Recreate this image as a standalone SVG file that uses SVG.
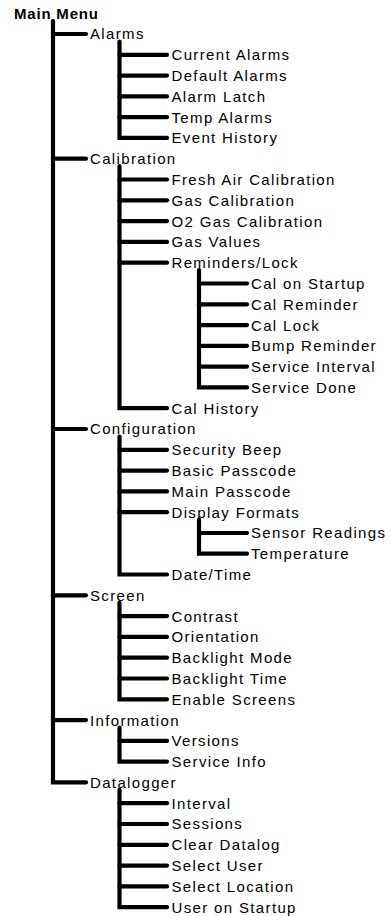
<svg xmlns="http://www.w3.org/2000/svg" width="391" height="916" viewBox="0 0 391 916">
<style>
.bg{fill:#ffffff}
text{font-family:"Liberation Sans",Arial,sans-serif;font-size:15px;fill:#000;letter-spacing:1.35px}
.root{font-weight:bold;letter-spacing:0.8px}
.c path{fill:none;stroke:#000;stroke-width:4.2;stroke-linecap:round;stroke-linejoin:miter}
</style>
<rect class="bg" x="0" y="0" width="391" height="916"/>
<g id="connectors" class="c">
<!-- level 1 -->
<path d="M53 21V782.4H86"/>
<path d="M53 34H86"/>
<path d="M53 158.7H86"/>
<path d="M53 429H86"/>
<path d="M53 595.3H86"/>
<path d="M53 720.1H86"/>
<!-- Alarms -->
<path d="M119.5 41.5V137.9H167"/>
<path d="M119.5 54.8H167"/>
<path d="M119.5 75.6H167"/>
<path d="M119.5 96.4H167"/>
<path d="M119.5 117.2H167"/>
<!-- Calibration -->
<path d="M119.5 166.2V408.2H167"/>
<path d="M119.5 179.5H167"/>
<path d="M119.5 200.3H167"/>
<path d="M119.5 221.1H167"/>
<path d="M119.5 241.9H167"/>
<path d="M119.5 262.7H167"/>
<!-- Reminders/Lock -->
<path d="M199 270.2V387.4H247"/>
<path d="M199 283.5H247"/>
<path d="M199 304.3H247"/>
<path d="M199 325.1H247"/>
<path d="M199 345.8H247"/>
<path d="M199 366.6H247"/>
<!-- Configuration -->
<path d="M119.5 436.5V574.5H167"/>
<path d="M119.5 449.8H167"/>
<path d="M119.5 470.6H167"/>
<path d="M119.5 491.4H167"/>
<path d="M119.5 512.2H167"/>
<!-- Display Formats -->
<path d="M199 519.7V553.7H247"/>
<path d="M199 533H247"/>
<!-- Screen -->
<path d="M119.5 602.8V699.3H167"/>
<path d="M119.5 616.1H167"/>
<path d="M119.5 636.9H167"/>
<path d="M119.5 657.7H167"/>
<path d="M119.5 678.5H167"/>
<!-- Information -->
<path d="M119.5 727.6V761.6H167"/>
<path d="M119.5 740.9H167"/>
<!-- Datalogger -->
<path d="M119.5 789.9V907.2H167"/>
<path d="M119.5 803.2H167"/>
<path d="M119.5 824H167"/>
<path d="M119.5 844.8H167"/>
<path d="M119.5 865.6H167"/>
<path d="M119.5 886.4H167"/>
</g>
<g id="main-menu"><text class="root" x="14" y="18.6">Main Menu</text></g>
<g id="alarms"><text x="90" y="39.4">Alarms</text></g>
<g id="current-alarms"><text x="171.5" y="60.2">Current Alarms</text></g>
<g id="default-alarms"><text x="171.5" y="81">Default Alarms</text></g>
<g id="alarm-latch"><text x="171.5" y="101.8">Alarm Latch</text></g>
<g id="temp-alarms"><text x="171.5" y="122.6">Temp Alarms</text></g>
<g id="event-history"><text x="171.5" y="143.3">Event History</text></g>
<g id="calibration"><text x="90" y="164.1">Calibration</text></g>
<g id="fresh-air-calibration"><text x="171.5" y="184.9">Fresh Air Calibration</text></g>
<g id="gas-calibration"><text x="171.5" y="205.7">Gas Calibration</text></g>
<g id="o2-gas-calibration"><text x="171.5" y="226.5">O2 Gas Calibration</text></g>
<g id="gas-values"><text x="171.5" y="247.3">Gas Values</text></g>
<g id="reminders-lock"><text x="171.5" y="268.1">Reminders/Lock</text></g>
<g id="cal-on-startup"><text x="251" y="288.9">Cal on Startup</text></g>
<g id="cal-reminder"><text x="251" y="309.7">Cal Reminder</text></g>
<g id="cal-lock"><text x="251" y="330.5">Cal Lock</text></g>
<g id="bump-reminder"><text x="251" y="351.2">Bump Reminder</text></g>
<g id="service-interval"><text x="251" y="372">Service Interval</text></g>
<g id="service-done"><text x="251" y="392.8">Service Done</text></g>
<g id="cal-history"><text x="171.5" y="413.6">Cal History</text></g>
<g id="configuration"><text x="90" y="434.4">Configuration</text></g>
<g id="security-beep"><text x="171.5" y="455.2">Security Beep</text></g>
<g id="basic-passcode"><text x="171.5" y="476">Basic Passcode</text></g>
<g id="main-passcode"><text x="171.5" y="496.8">Main Passcode</text></g>
<g id="display-formats"><text x="171.5" y="517.6">Display Formats</text></g>
<g id="sensor-readings"><text x="251" y="538.4">Sensor Readings</text></g>
<g id="temperature"><text x="251" y="559.1">Temperature</text></g>
<g id="date-time"><text x="171.5" y="579.9">Date/Time</text></g>
<g id="screen"><text x="90" y="600.7">Screen</text></g>
<g id="contrast"><text x="171.5" y="621.5">Contrast</text></g>
<g id="orientation"><text x="171.5" y="642.3">Orientation</text></g>
<g id="backlight-mode"><text x="171.5" y="663.1">Backlight Mode</text></g>
<g id="backlight-time"><text x="171.5" y="683.9">Backlight Time</text></g>
<g id="enable-screens"><text x="171.5" y="704.7">Enable Screens</text></g>
<g id="information"><text x="90" y="725.5">Information</text></g>
<g id="versions"><text x="171.5" y="746.3">Versions</text></g>
<g id="service-info"><text x="171.5" y="767">Service Info</text></g>
<g id="datalogger"><text x="90" y="787.8">Datalogger</text></g>
<g id="interval"><text x="171.5" y="808.6">Interval</text></g>
<g id="sessions"><text x="171.5" y="829.4">Sessions</text></g>
<g id="clear-datalog"><text x="171.5" y="850.2">Clear Datalog</text></g>
<g id="select-user"><text x="171.5" y="871">Select User</text></g>
<g id="select-location"><text x="171.5" y="891.8">Select Location</text></g>
<g id="user-on-startup"><text x="171.5" y="912.6">User on Startup</text></g>
</svg>
